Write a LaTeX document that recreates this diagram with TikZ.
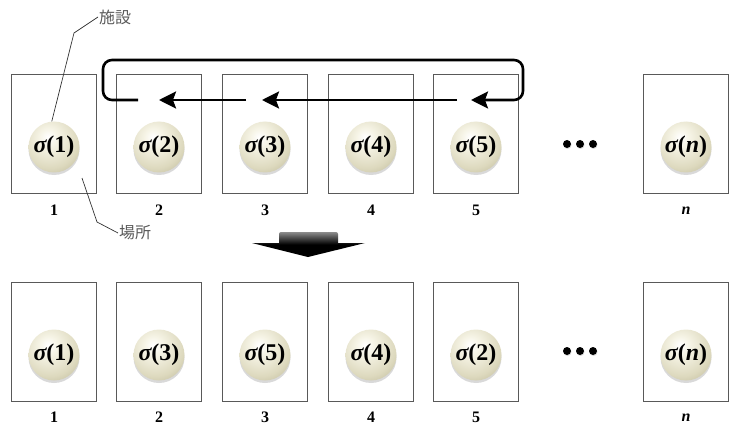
\documentclass[tikz,border=0pt]{standalone}
\usepackage{fontspec}
\setmainfont{Liberation Serif}
\newfontfamily\jpfont{Noto Sans CJK JP}
\usetikzlibrary{arrows.meta,shadows}
\definecolor{boxline}{gray}{0.35}
\definecolor{pearlA}{HTML}{F6F4E6}
\definecolor{pearlB}{HTML}{DDD9BE}
\definecolor{pearlC}{HTML}{B3AF8F}
\definecolor{pearlD}{HTML}{6E6A52}
\definecolor{notecol}{gray}{0.35}
\pgfdeclareradialshading{pearl}{\pgfpoint{-6bp}{10bp}}{color(0bp)=(white); color(9bp)=(pearlA); color(28bp)=(pearlB); color(45bp)=(pearlC); color(58bp)=(pearlD); color(100bp)=(pearlD)}
\begin{document}
\begin{tikzpicture}[x=1pt,y=-1pt,
  slot/.style={draw=boxline,line width=0.8pt,minimum width=85pt,minimum height=119pt,inner sep=0pt},
  ball/.style={circle,minimum size=51pt,inner sep=0pt,shading=pearl,font=\fontsize{24}{24}\selectfont\bfseries,
     drop shadow={shadow xshift=0pt,shadow yshift=-2.5pt,opacity=0.25,fill=black!60}},
  poslabel/.style={font=\fontsize{16}{16}\selectfont\bfseries},
  note/.style={font=\jpfont\fontsize{16}{16}\selectfont,text=notecol,inner sep=1pt},
  noteline/.style={draw=black!80,line width=0.7pt},
  moveline/.style={line width=2.6pt,line cap=butt},
  movearrow/.style={moveline,-{Stealth[length=17pt,width=17pt,inset=3pt]}},
  dot/.style={circle,fill=black,inner sep=0pt,minimum size=8pt,drop shadow={shadow xshift=0.5pt,shadow yshift=-1pt,opacity=0.3}}
]
\useasboundingbox (0,0) rectangle (731,425);
% top row
\foreach \i/\x/\s in {1/54/1,2/159/2,3/265/3,4/371/4,5/476/5} {
  \node[slot] (t\i) at (\x,133.5) {};
  \node[ball] (tb\i) at (\x,147) {{\itshape σ}(\s)};
  \node[poslabel] (tl\i) at (\x,210) {\i};
}
\node[slot] (tn) at (686,133.5) {};
\node[ball] (tbn) at (686,147) {{\itshape σ}({\itshape n})};
\node[poslabel] (tln) at (686,211) {\itshape n};
% bottom row
\foreach \i/\x/\s in {1/54/1,2/159/3,3/265/5,4/371/4,5/476/2} {
  \node[slot] (b\i) at (\x,342) {};
  \node[ball] (bb\i) at (\x,355) {{\itshape σ}(\s)};
  \node[poslabel] (bl\i) at (\x,417) {\i};
}
\node[slot] (bn) at (686,342) {};
\node[ball] (bbn) at (686,355) {{\itshape σ}({\itshape n})};
\node[poslabel] (bln) at (686,418) {\itshape n};
% dots
\foreach \k/\x in {1/567,2/580,3/593} {
  \node[dot] (td\k) at (\x,144) {};
  \node[dot] (bd\k) at (\x,351) {};
}
% annotations
\node[note,anchor=west] (fac) at (98,17) {施設};
\node[note,anchor=west] (loc) at (118,233) {場所};
\coordinate (fk) at (74,33);
\draw[noteline] (fac.west) -- (fk) -- (tb1.95);
\coordinate (lp) at (82,178);
\coordinate (lk) at (97,222);
\draw[noteline] (lp) -- (lk) -- (loc.west);
% moves
\coordinate (ls) at (138,100);
\coordinate (lc1) at (103,100);
\coordinate (lc2) at (103,60);
\coordinate (lc3) at (523,60);
\coordinate (lc4) at (523,100);
\coordinate (le) at (471,100);
\draw[movearrow,rounded corners=9pt] (ls) -- (lc1) -- (lc2) -- (lc3) -- (lc4) -- (le);
\coordinate (m1s) at (457,100);
\coordinate (m1e) at (262,100);
\draw[movearrow] (m1s) -- (m1e);
\coordinate (m2s) at (246,100);
\coordinate (m2e) at (159,100);
\draw[movearrow] (m2s) -- (m2e);
% big down arrow
\shade[top color=black!45,bottom color=black,middle color=black]
  (279,232) [rounded corners=2pt] -- (338,232) [sharp corners] -- (338,243) -- (365,243) -- (308,257) -- (252,243) -- (279,243) [rounded corners=2pt] -- cycle;
\end{tikzpicture}
\end{document}
